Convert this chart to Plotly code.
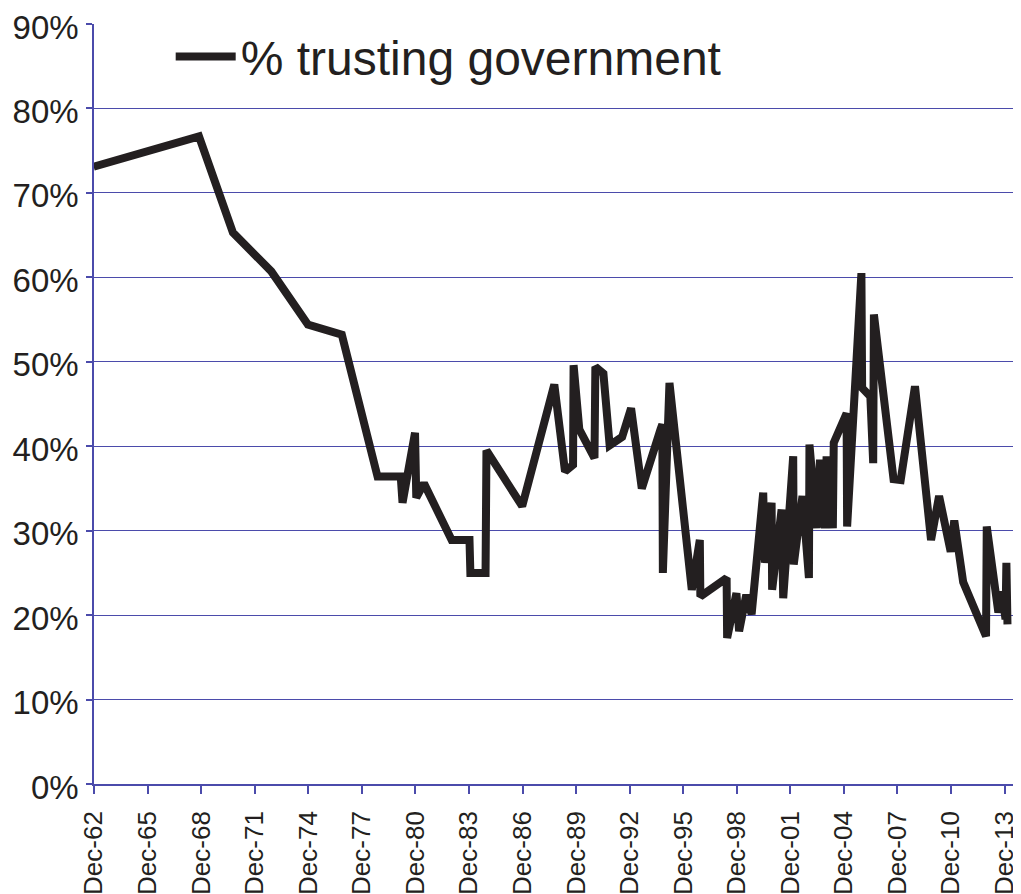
import plotly.graph_objects as go

# Data (decimal year, % trusting government)
years = [1962.9, 1968.8, 1970.7, 1972.85, 1974.9, 1976.8, 1978.8, 1980.1, 1980.2, 1980.9,
         1980.97, 1981.4, 1982.95, 1983.95, 1984.0, 1984.85, 1984.9, 1986.9, 1988.7, 1989.3,
         1989.75, 1989.78, 1990.1, 1990.95, 1991.0, 1991.45, 1991.8, 1992.5, 1993.0, 1993.6,
         1994.65, 1994.75, 1994.78, 1995.15, 1996.4, 1996.85, 1996.88, 1998.35, 1998.38, 1998.9,
         1999.05, 1999.45, 1999.75, 2000.4, 2000.5, 2000.87, 2000.9, 2001.43, 2001.52, 2002.08,
         2002.11, 2002.6, 2002.96, 2002.99, 2003.4, 2003.58, 2003.86, 2003.95, 2004.3, 2004.35,
         2005.07, 2005.1, 2005.9, 2005.94, 2006.4, 2006.56, 2006.6, 2007.7, 2008.1, 2008.9,
         2009.8, 2010.25, 2010.9, 2011.1, 2011.6, 2012.88, 2012.92, 2013.57, 2013.76, 2013.97,
         2014.02, 2014.08]
trust = [73.1, 76.7, 65.3, 60.7, 54.4, 53.2, 36.4, 36.4, 33.3, 41.6,
         33.9, 35.6, 28.9, 28.9, 25.0, 25.0, 39.5, 32.9, 47.3, 37.0,
         37.8, 49.6, 42.0, 38.6, 49.4, 48.6, 40.1, 41.1, 44.5, 35.0,
         42.0, 42.6, 25.0, 47.5, 23.0, 28.9, 22.2, 24.4, 17.3, 22.6,
         18.1, 22.4, 20.1, 34.5, 26.2, 33.3, 23.0, 32.5, 22.0, 38.8,
         26.0, 34.1, 24.4, 40.2, 30.3, 38.4, 30.3, 38.8, 30.3, 40.4,
         43.9, 30.5, 60.5, 46.9, 45.9, 38.0, 55.6, 36.1, 36.0, 47.1,
         28.9, 34.1, 27.5, 31.2, 23.9, 17.5, 30.5, 20.3, 22.8, 19.5,
         26.2, 18.9]

tick_years = [1962, 1965, 1968, 1971, 1974, 1977, 1980, 1983, 1986, 1989,
              1992, 1995, 1998, 2001, 2004, 2007, 2010, 2013]
tick_labels = ["Dec-62", "Dec-65", "Dec-68", "Dec-71", "Dec-74", "Dec-77", "Dec-80",
               "Dec-83", "Dec-86", "Dec-89", "Dec-92", "Dec-95", "Dec-98", "Dec-01",
               "Dec-04", "Dec-07", "Dec-10", "Dec-13"]
y_ticks = [0, 10, 20, 30, 40, 50, 60, 70, 80, 90]
series_name = "% trusting government"

grid_color = "#4b4bab"
text_color = "#231f20"
font_family = "Liberation Sans, Arial, sans-serif"

fig = go.Figure()
fig.add_trace(go.Scatter(
    x=years, y=trust, mode="lines", name=series_name,
    line=dict(color="#231f20", width=8),
    showlegend=True,
))

fig.update_layout(
    width=1013, height=886,
    margin=dict(l=86, r=3, t=16, b=110),
    paper_bgcolor="white", plot_bgcolor="white",
    font=dict(family=font_family, color=text_color),
    showlegend=True,
    legend=dict(
        x=0.083, y=0.957, xanchor="left", yanchor="middle",
        bgcolor="rgba(0,0,0,0)", font=dict(size=48, color=text_color),
        itemwidth=60,
    ),
    xaxis=dict(
        range=[1962.92, 2014.67], automargin=False,
        tickvals=[y + 0.92 for y in tick_years], ticktext=tick_labels,
        tickangle=-90, tickfont=dict(size=26, color=text_color),
        ticks="outside", ticklen=8, tickcolor=grid_color, tickwidth=1.5,
        showline=True, linecolor=grid_color, linewidth=1.5,
        showgrid=False, zeroline=False,
        ticklabelstandoff=7, ticklabeloverflow="allow",
    ),
    yaxis=dict(
        range=[0, 90], automargin=False,
        tickvals=y_ticks, ticktext=[f"{v}%" for v in y_ticks],
        tickfont=dict(size=33, color=text_color),
        ticks="outside", ticklen=6, tickcolor=grid_color, tickwidth=1.5,
        showline=True, linecolor=grid_color, linewidth=1.5,
        showgrid=True, gridcolor=grid_color, gridwidth=1.3,
        zeroline=False,
        ticklabelstandoff=1, ticklabelshift=3, ticklabeloverflow="allow",
    ),
)

fig.write_html("out.html")
